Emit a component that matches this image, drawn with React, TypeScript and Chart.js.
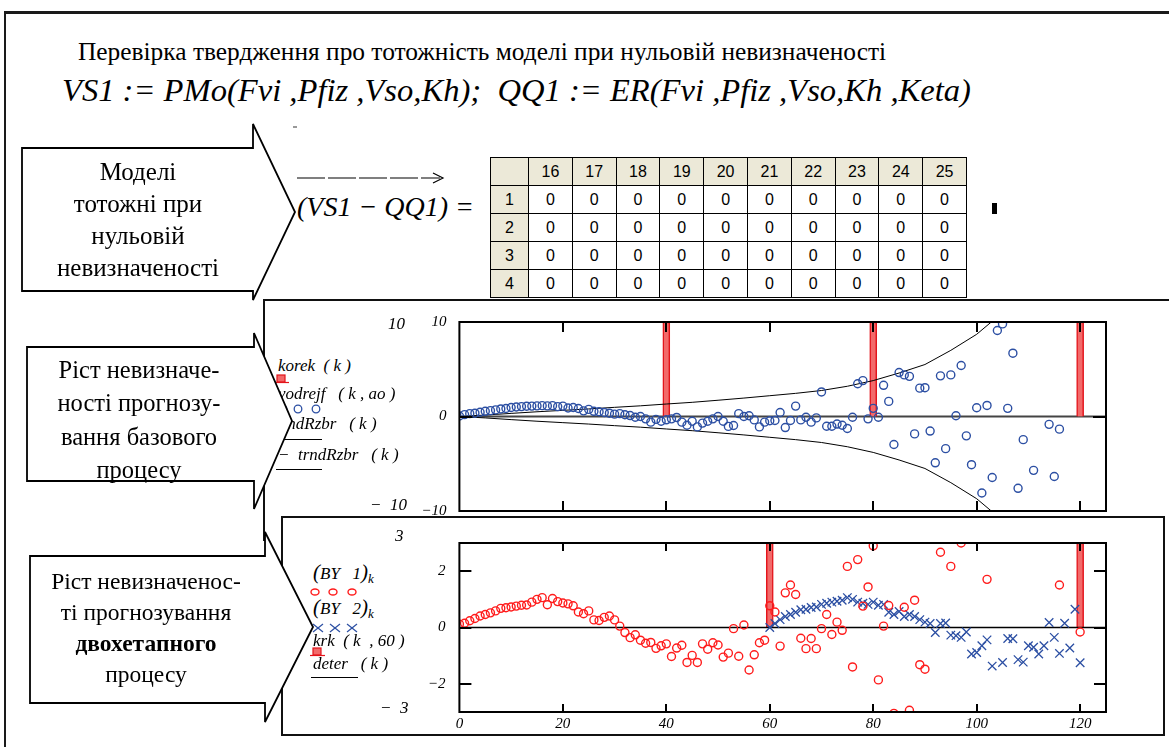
import React, { useEffect, useRef } from "react";
import { Chart, registerables } from "chart.js";
Chart.register(...registerables);

const SERIF = "'Liberation Serif', Tinos, 'Times New Roman', 'DejaVu Serif', serif";
const SANS = "'Liberation Sans', Arimo, Arial, sans-serif";

// ---------- table ----------
const tableCols = [16, 17, 18, 19, 20, 21, 22, 23, 24, 25];
const tableRows = [1, 2, 3, 4];
const tableValues = [
  [0, 0, 0, 0, 0, 0, 0, 0, 0, 0],
  [0, 0, 0, 0, 0, 0, 0, 0, 0, 0],
  [0, 0, 0, 0, 0, 0, 0, 0, 0, 0],
  [0, 0, 0, 0, 0, 0, 0, 0, 0, 0],
];

// ---------- plot 1 ----------
const plot1XTicks = [0, 20, 40, 60, 80, 100, 120];
const plot1YTicks = [-10, 0, 10];
const korekK = [40, 80, 120];
const korekV = [10, 10, 10];
const trndK = [0, 5, 10, 15, 20, 25, 30, 35, 40, 45, 50, 55, 60, 65, 70, 75, 80, 85, 90, 95, 100, 105];
const trndV = [0, 0.15, 0.33, 0.5, 0.65, 0.8, 0.97, 1.13, 1.32, 1.5, 1.72, 1.95, 2.2, 2.45, 2.75, 3.2, 3.8, 4.6, 5.5, 7.0, 8.7, 11.0];
// vodrejf(k, ao), k = 0..116 (null = outside the plot)
const vodrejfV: (number | null)[] = [
  0.05, 0.2, 0.3, 0.35, 0.45, 0.55, 0.62, 0.7, 0.8, 0.85,
  0.95, 1.0, 1.05, 1.08, 1.1, 1.12, 1.15, 1.12, 1.15, 1.05,
  1.1, 0.9, 0.95, 0.85, 0.6, 0.75, 0.55, 0.5, 0.42, 0.35,
  0.25, 0.3, 0.19, 0.1, -0.08, 0.0, -0.25, -0.6, -0.3, -0.5,
  -0.35, -0.25, -0.1, -0.6, -0.93, -0.5, -1.1, -0.7, -0.5, -0.25,
  0.0, -0.5, -1.05, -0.95, 0.3, 0.0, 0.08, -0.36, -1.1, -0.6,
  -0.45, -0.42, 0.42, -1.17, -0.42, 1.1, -0.36, -0.08, -0.6, -0.15,
  2.6, -1.03, -1.03, -0.8, -0.93, -1.27, -0.08, 3.47, 3.8, -0.25,
  0.86, -0.08, 3.3, 1.6, -2.96, 4.65, 4.4, 4.25, -1.84, 3.0,
  3.05, -1.54, -4.9, 4.3, -3.4, 4.4, 0.08, 5.4, -2.05, -5.1,
  0.93, -8.1, 1.17, -6.45, 9.1, 9.8, 0.86, 6.7, -7.6, -2.45,
  null, -5.7, null, null, -0.83, -6.35, -1.34,
];

// ---------- plot 2 ----------
const plot2XTicks = [0, 20, 40, 60, 80, 100, 120];
const plot2YTicks = [-2, 0, 2];
const krkK = [60, 120];
const krkV = [3, 3];
const deterK = [0, 125];
const deterV = [0, 0];
// (BY1)k, k = 0..120
const by1V: (number | null)[] = [
  0.12, 0.15, 0.24, 0.32, 0.41, 0.46, 0.52, 0.59, 0.68, 0.7,
  0.73, 0.76, 0.79, 0.8, 0.9, 1.0, 1.06, 0.81, 1.03, 0.92,
  0.87, 0.84, 0.77, 0.55, 0.49, 0.59, 0.27, 0.25, 0.36, 0.41,
  0.27, 0.05, -0.18, -0.36, -0.26, -0.45, -0.56, -0.53, -0.74, -0.65,
  -0.58, -1.03, -0.73, -0.63, -1.24, -0.99, -1.24, -0.58, -0.77, -0.54,
  -0.62, -1.05, -0.91, -0.04, -1.02, 0.09, -1.51, -0.97, -0.54, -0.45,
  0.77, 0.55, -0.66, 1.23, 1.51, 1.17, -0.38, -0.75, -0.39, -0.75,
  -0.04, 0.46, -0.25, 0.19, -0.1, 2.17, -1.4, 2.41, 0.76, 1.44,
  2.9, -1.86, 0.05, 0.78, -3.05, null, 0.72, -2.94, 0.97, -1.32,
  -1.48, null, null, 2.67, null, 2.17, null, 3.0, null, null,
  null, null, 1.71, null, null, null, null, null, null, null,
  null, null, null, null, null, null, 1.51, null, null, null,
  -0.16,
];
// (BY2)k, k = 60..120
const by2FirstK = 60;
const by2V: (number | null)[] = [
  0.0, 0.14, 0.28, 0.39, 0.46, 0.54, 0.63, 0.65, 0.71, 0.73,
  0.82, 0.86, 0.9, 0.93, 0.97, 1.06, 1.0, 0.9, 0.86, 0.82,
  0.9, 0.79, 0.82, 0.54, 0.46, 0.57, 0.39, 0.46, 0.39, 0.28,
  0.19, 0.14, -0.18, 0.14, 0.16, -0.27, -0.29, -0.35, -0.16, -0.94,
  -0.89, -0.65, -0.44, -1.37, null, -1.24, -0.39, -0.4, -1.14, -1.23,
  -0.65, -0.7, -0.94, -0.65, 0.18, -0.35, -0.92, 0.15, -0.73, 0.65,
  -1.25,
];

const RED = "#ff1c1c";
const BLUE = "#2c4fa3";
const BAR_FILL = "#f26a6a";
const BAR_EDGE = "#e3141b";

function toPoints(ks: number[], vs: (number | null)[]) {
  const out: { x: number; y: number }[] = [];
  ks.forEach((k, i) => {
    const v = vs[i];
    if (v !== null && v !== undefined) out.push({ x: k, y: v });
  });
  return out;
}
const fmt = (v: any) => (Number(v) < 0 ? "\u2212" + Math.abs(Number(v)) : String(v));

function framePlugin(xt: number[], yt: number[], xLen: number, yLen: number, zero: { color: string; width: number } | null) {
  return {
    id: "mcFrame",
    beforeDatasetsDraw(chart: any) {
      if (!zero) return;
      const { ctx, chartArea: a, scales } = chart;
      const y0 = scales.y.getPixelForValue(0);
      ctx.save();
      ctx.strokeStyle = zero.color;
      ctx.lineWidth = zero.width;
      ctx.beginPath();
      ctx.moveTo(a.left, y0);
      ctx.lineTo(a.right, y0);
      ctx.stroke();
      ctx.restore();
    },
    afterDatasetsDraw(chart: any) {
      const { ctx, chartArea: a, scales } = chart;
      ctx.save();
      ctx.strokeStyle = "#000";
      ctx.lineWidth = 2;
      ctx.strokeRect(a.left, a.top, a.right - a.left, a.bottom - a.top);
      ctx.beginPath();
      xt.forEach((v) => {
        const px = Math.round(scales.x.getPixelForValue(v));
        ctx.moveTo(px, a.top);
        ctx.lineTo(px, a.top + xLen);
        ctx.moveTo(px, a.bottom);
        ctx.lineTo(px, a.bottom - xLen);
      });
      yt.forEach((v) => {
        const py = Math.round(scales.y.getPixelForValue(v));
        ctx.moveTo(a.left, py);
        ctx.lineTo(a.left + yLen, py);
        ctx.moveTo(a.right, py);
        ctx.lineTo(a.right - yLen, py);
      });
      ctx.stroke();
      ctx.restore();
    },
  };
}

type PlotProps = {
  left: number; top: number; width: number; height: number;
  padTop: number; padRight: number; yAxisW: number; xAxisH: number;
  xMax: number; yMin: number; yMax: number;
  xTicks: number[]; yTicks: number[]; tickMarksX: number[]; tickMarksY: number[];
  xLen: number; yLen: number; yPad: number;
  zero: { color: string; width: number } | null;
  datasets: any[]; z: number;
};

function McPlot(p: PlotProps) {
  const ref = useRef<HTMLCanvasElement>(null);
  useEffect(() => {
    const font = { family: SERIF, style: "italic" as const, size: 15 };
    const chart = new Chart(ref.current!, {
      type: "scatter",
      data: { datasets: p.datasets },
      options: {
        animation: false,
        responsive: false,
        devicePixelRatio: 1,
        events: [],
        layout: { padding: { top: p.padTop, right: p.padRight, left: 0, bottom: 0 } },
        plugins: { legend: { display: false }, tooltip: { enabled: false } },
        scales: {
          x: {
            type: "linear", min: 0, max: p.xMax, offset: false,
            afterBuildTicks: (s: any) => { s.ticks = p.xTicks.map((v) => ({ value: v })); },
            afterFit: (s: any) => { s.height = p.xAxisH; },
            grid: { display: false, drawTicks: false, offset: false },
            border: { display: false },
            ticks: { font, color: "#000", padding: 3, maxRotation: 0, autoSkip: false, callback: fmt },
          },
          y: {
            type: "linear", min: p.yMin, max: p.yMax, offset: false,
            afterBuildTicks: (s: any) => { s.ticks = p.yTicks.map((v) => ({ value: v })); },
            afterFit: (s: any) => { s.width = p.yAxisW; },
            grid: { display: false, drawTicks: false },
            border: { display: false },
            ticks: { font, color: "#000", padding: p.yPad, autoSkip: false, callback: fmt },
          },
        },
      } as any,
      plugins: [framePlugin(p.tickMarksX, p.tickMarksY, p.xLen, p.yLen, p.zero)],
    });
    return () => chart.destroy();
  }, []);
  return (
    <canvas
      ref={ref}
      width={p.width}
      height={p.height}
      style={{ position: "absolute", left: p.left, top: p.top, width: p.width, height: p.height, zIndex: p.z }}
    />
  );
}

const abs = (left: number, top: number, extra: React.CSSProperties = {}): React.CSSProperties => ({
  position: "absolute", left, top, whiteSpace: "pre", ...extra,
});

function Leg({ x, y, children, z = 2, size = 17 }: { x: number; y: number; children: any; z?: number; size?: number }) {
  return (
    <div style={abs(x, y - 10, { fontStyle: "italic", fontSize: size, lineHeight: "20px", zIndex: z, fontFamily: SERIF })}>
      {children}
    </div>
  );
}

function arrowPts(L: number, T: number, B: number, N: number, HT: number, X: number, Y: number, HB: number) {
  return `${L},${T} ${N},${T} ${N},${HT} ${X},${Y} ${N},${HB} ${N},${B} ${L},${B}`;
}

function BoxText({ cx, top, lh, size, lines }: { cx: number; top: number; lh: number; size: number; lines: any[] }) {
  return (
    <div style={{ position: "absolute", left: cx - 130, top, width: 260, textAlign: "center", fontSize: size, lineHeight: lh + "px", zIndex: 7, fontFamily: SERIF }}>
      {lines.map((l, i) => (<div key={i}>{l}</div>))}
    </div>
  );
}

export default function App() {
  const plot1Datasets = [
    { type: "bar", data: toPoints(korekK, korekV), barThickness: 7, backgroundColor: BAR_FILL, borderColor: BAR_EDGE, borderWidth: 1.5, order: 3, clip: 0 },
    { type: "line", data: toPoints(trndK, trndV), borderColor: "#000", borderWidth: 1, pointRadius: 0, showLine: true, tension: 0, fill: false, order: 2, clip: 0 },
    { type: "line", data: toPoints(trndK, trndV.map((v) => -v)), borderColor: "#000", borderWidth: 1, pointRadius: 0, showLine: true, tension: 0, fill: false, order: 2, clip: 0 },
    { type: "scatter", data: toPoints(vodrejfV.map((_, i) => i), vodrejfV), pointStyle: "circle", pointRadius: 4, pointBorderWidth: 1.4, pointBorderColor: BLUE, pointBackgroundColor: "rgba(0,0,0,0)", showLine: false, order: 1, clip: 0 },
  ];
  const plot2Datasets = [
    { type: "bar", data: toPoints(krkK, krkV), barThickness: 7, backgroundColor: BAR_FILL, borderColor: BAR_EDGE, borderWidth: 1.5, order: 4, clip: 0 },
    { type: "line", data: toPoints(deterK, deterV), borderColor: "#000", borderWidth: 1.5, pointRadius: 0, showLine: true, fill: false, order: 3, clip: 0 },
    { type: "scatter", data: toPoints(by2V.map((_, i) => by2FirstK + i), by2V), pointStyle: "crossRot", pointRadius: 6, pointBorderWidth: 1.3, pointBorderColor: BLUE, pointBackgroundColor: BLUE, showLine: false, order: 2, clip: 0 },
    { type: "scatter", data: toPoints(by1V.map((_, i) => i), by1V), pointStyle: "circle", pointRadius: 4, pointBorderWidth: 1.4, pointBorderColor: RED, pointBackgroundColor: "rgba(0,0,0,0)", showLine: false, order: 1, clip: 0 },
  ];

  const headCell: React.CSSProperties = { background: "#ece9d8", border: "1px solid #000", textAlign: "center", padding: 0 };
  const cell: React.CSSProperties = { background: "#fff", border: "1px solid #000", textAlign: "center", padding: 0 };

  return (
    <div style={{ position: "fixed", left: 0, top: 0, width: 1169, height: 747, background: "#fff", overflow: "hidden", fontFamily: SERIF, color: "#000" }}>
      {/* outer frame */}
      <div style={{ position: "absolute", left: 4, top: 11, width: 1180, height: 760, borderTop: "3px solid #1a1a1a", borderLeft: "2px solid #1a1a1a" }} />

      {/* heading and formula */}
      <div style={abs(78, 37, { fontSize: 25.4, lineHeight: "28px", fontFamily: SERIF })}>Перевірка твердження про тотожність моделі при нульовій невизначеності</div>
      <div style={abs(62, 72, { fontSize: 32.6, lineHeight: "36px", fontStyle: "italic", fontFamily: SERIF })}>VS1 := PMo(Fvi ,Pfiz ,Vso,Kh);  QQ1 := ER(Fvi ,Pfiz ,Vso,Kh ,Keta)</div>
      <div style={abs(293, 126, { width: 4, height: 2, background: "#999" })} />

      {/* vectorized difference */}
      <svg style={{ position: "absolute", left: 290, top: 168, overflow: "visible" }} width={170} height={20}>
        <line x1={7} y1={10} x2={150} y2={10} stroke="#000" strokeWidth={1.2} strokeDasharray="28 3" />
        <path d="M143,5 L153,10 L143,15" fill="none" stroke="#000" strokeWidth={1.2} />
      </svg>
      <div style={abs(297, 191, { fontSize: 28, lineHeight: "32px", fontStyle: "italic", fontFamily: SERIF })}>(VS1 − QQ1) =</div>

      <table style={{ position: "absolute", left: 490, top: 157, width: 476, height: 141, borderCollapse: "collapse", tableLayout: "fixed", fontFamily: SANS, fontSize: 16, border: "1.5px solid #000" }}>
        <colgroup>
          <col style={{ width: 38 }} />
          {tableCols.map((c) => (<col key={c} style={{ width: 43.8 }} />))}
        </colgroup>
        <tbody>
          <tr>
            <td style={headCell}></td>
            {tableCols.map((c) => (<td key={c} style={headCell}>{c}</td>))}
          </tr>
          {tableRows.map((r, i) => (
            <tr key={r}>
              <td style={headCell}>{r}</td>
              {tableValues[i].map((v, j) => (<td key={j} style={cell}>{v}</td>))}
            </tr>
          ))}
        </tbody>
      </table>
      <div style={abs(992, 203, { width: 5, height: 11, background: "#000" })} />

      {/* plot 1 region */}
      <div style={{ position: "absolute", left: 263, top: 299, width: 920, height: 240, borderTop: "2px solid #111", borderLeft: "2px solid #111", background: "#fff", zIndex: 1 }} />
      <McPlot
        left={380} top={300} width={740} height={240}
        padTop={14} padRight={14} yAxisW={79.4} xAxisH={29}
        xMax={125} yMin={-10} yMax={10}
        xTicks={plot1XTicks} yTicks={plot1YTicks}
        tickMarksX={plot1XTicks.slice(1)} tickMarksY={plot1YTicks}
        xLen={10} yLen={13} yPad={13}
        zero={{ color: "#444", width: 2 }}
        datasets={plot1Datasets} z={2}
      />
      <Leg x={278} y={366}>korek  ( k )</Leg>
      <svg style={{ position: "absolute", left: 272, top: 372, zIndex: 2 }} width={20} height={14}>
        <rect x={5} y={3} width={8} height={7} fill={BAR_FILL} stroke={BAR_EDGE} strokeWidth={1.2} />
        <line x1={2} y1={10.5} x2={17} y2={10.5} stroke={BAR_EDGE} strokeWidth={1.2} />
      </svg>
      <Leg x={278} y={394}>vodrejf   ( k , ao )</Leg>
      <svg style={{ position: "absolute", left: 276, top: 403, zIndex: 2 }} width={50} height={12}>
        <circle cx={7} cy={6} r={3.8} fill="none" stroke={BLUE} strokeWidth={1.3} />
        <circle cx={22} cy={6} r={3.8} fill="none" stroke={BLUE} strokeWidth={1.3} />
        <circle cx={40} cy={6} r={3.8} fill="none" stroke={BLUE} strokeWidth={1.3} />
      </svg>
      <Leg x={276} y={424}>trndRzbr   ( k )</Leg>
      <div style={abs(277, 439, { width: 45, height: 1, background: "#000", zIndex: 2 })} />
      <Leg x={278} y={455}>−  trndRzbr   ( k )</Leg>
      <div style={abs(276, 469, { width: 46, height: 1, background: "#000", zIndex: 2 })} />
      <Leg x={388} y={324}>10</Leg>
      <Leg x={370} y={505}>−  10</Leg>

      {/* plot 2 region */}
      <div style={{ position: "absolute", left: 281, top: 516, width: 880, height: 216, border: "2px solid #111", background: "#fff", zIndex: 3 }} />
      <McPlot
        left={380} top={520} width={740} height={220}
        padTop={6.7} padRight={14} yAxisW={79.4} xAxisH={28}
        xMax={125} yMin={-3} yMax={3}
        xTicks={plot2XTicks} yTicks={plot2YTicks}
        tickMarksX={plot2XTicks.slice(1)} tickMarksY={plot2YTicks}
        xLen={8} yLen={12} yPad={14}
        zero={null}
        datasets={plot2Datasets} z={4}
      />
      <Leg x={313} y={572} z={4}>
        <span style={{ fontSize: 21 }}>(</span>BY   <span>1</span><span style={{ fontSize: 21 }}>)</span><sub style={{ fontSize: 13 }}>k</sub>
      </Leg>
      <svg style={{ position: "absolute", left: 308, top: 586, zIndex: 4 }} width={54} height={12}>
        <ellipse cx={7} cy={6} rx={4} ry={3} fill="none" stroke={RED} strokeWidth={1.4} />
        <ellipse cx={25} cy={6} rx={4} ry={3} fill="none" stroke={RED} strokeWidth={1.4} />
        <ellipse cx={44} cy={6} rx={4} ry={3} fill="none" stroke={RED} strokeWidth={1.4} />
      </svg>
      <Leg x={313} y={607} z={4}>
        <span style={{ fontSize: 21 }}>(</span>BY   <span>2</span><span style={{ fontSize: 21 }}>)</span><sub style={{ fontSize: 13 }}>k</sub>
      </Leg>
      <svg style={{ position: "absolute", left: 310, top: 621, zIndex: 4 }} width={54} height={14}>
        {[8, 25, 42].map((cx) => (
          <g key={cx}>
            <line x1={cx - 5} y1={3} x2={cx + 5} y2={11} stroke={BLUE} strokeWidth={1.2} />
            <line x1={cx - 5} y1={11} x2={cx + 5} y2={3} stroke={BLUE} strokeWidth={1.2} />
          </g>
        ))}
      </svg>
      <Leg x={313} y={641} z={4}>krk  ( k  , 60 )</Leg>
      <svg style={{ position: "absolute", left: 309, top: 645, zIndex: 4 }} width={20} height={14}>
        <rect x={4} y={3} width={8} height={7} fill={BAR_FILL} stroke={BAR_EDGE} strokeWidth={1.2} />
        <line x1={1} y1={10.5} x2={16} y2={10.5} stroke={BAR_EDGE} strokeWidth={1.2} />
      </svg>
      <Leg x={313} y={664} z={4}>deter   ( k )</Leg>
      <div style={abs(311, 677, { width: 47, height: 1, background: "#000", zIndex: 4 })} />
      <Leg x={395} y={536} z={4}>3</Leg>
      <Leg x={380} y={708} z={4}>−  3</Leg>

      {/* callout arrows */}
      <svg style={{ position: "absolute", left: 0, top: 0, zIndex: 6, pointerEvents: "none" }} width={1169} height={747}>
        <polygon points={arrowPts(22, 148, 291, 253, 124, 295, 212, 300)} fill="#fff" stroke="#000" strokeWidth={1.8} />
        <polygon points={arrowPts(27, 347, 481, 254, 333, 292, 421, 509)} fill="#fff" stroke="#000" strokeWidth={1.8} />
        <polygon points={arrowPts(30, 556, 703, 265, 532, 313, 627, 722)} fill="#fff" stroke="#000" strokeWidth={1.8} />
      </svg>
      <BoxText cx={138} top={156} lh={32} size={25} lines={["Моделі", "тотожні при", "нульовій", "невизначеності"]} />
      <BoxText cx={139} top={353} lh={33.3} size={24.5} lines={["Ріст невизначе-", "ності прогнозу-", "вання базового", "процесу"]} />
      <BoxText cx={146} top={566} lh={31} size={23.5} lines={["Ріст невизначенос-", "ті прогнозування", <b>двохетапного</b>, "процесу"]} />
    </div>
  );
}
